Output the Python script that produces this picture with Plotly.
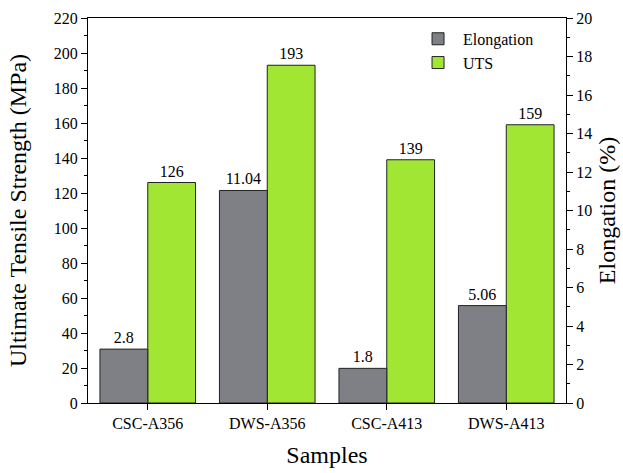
import plotly.graph_objects as go

samples = ["CSC-A356", "DWS-A356", "CSC-A413", "DWS-A413"]
elongation = [2.8, 11.04, 1.8, 5.06]
elongation_text = ["2.8", "11.04", "1.8", "5.06"]
uts = [126, 193, 139, 159]
uts_text = ["126", "193", "139", "159"]

FONT = "Liberation Serif"
GRAY = "#7e8085"
GREEN = "#a1e633"

fig = go.Figure()
fig.add_trace(go.Bar(
    x=samples, y=elongation, name="Elongation", yaxis="y2",
    marker=dict(color=GRAY, line=dict(color="#222222", width=1)),
    width=0.4, offset=-0.4,
    text=elongation_text, textposition="outside", cliponaxis=False,
    textfont=dict(family=FONT, size=16, color="black"),
))
fig.add_trace(go.Bar(
    x=samples, y=uts, name="UTS", yaxis="y",
    marker=dict(color=GREEN, line=dict(color="#222222", width=1)),
    width=0.4, offset=0,
    text=uts_text, textposition="outside", cliponaxis=False,
    textfont=dict(family=FONT, size=16, color="black"),
))

axis_common = dict(
    showgrid=False, zeroline=False, showline=True, linecolor="black", linewidth=1.2,
    ticks="outside", ticklen=6, tickwidth=1.2, tickcolor="black",
    tickfont=dict(family=FONT, size=16, color="black"),
)

fig.update_layout(
    width=623, height=473,
    margin=dict(l=88, r=57, t=18, b=70, autoexpand=False),
    paper_bgcolor="white", plot_bgcolor="white",
    font=dict(family=FONT, size=16, color="black"),
    barmode="overlay",
    showlegend=True,
    legend=dict(x=0.68, y=0.99, xanchor="left", yanchor="top",
                bgcolor="rgba(0,0,0,0)", font=dict(family=FONT, size=16, color="black"),
                tracegroupgap=0, itemwidth=40),
    xaxis=dict(**axis_common, range=[-0.5, 3.5], mirror=True,
               title=dict(text="Samples", font=dict(family=FONT, size=24, color="black"), standoff=14)),
    yaxis=dict(**axis_common, range=[0, 220], dtick=20, tick0=0,
               minor=dict(ticks="outside", ticklen=3, dtick=10, tickcolor="black", tickwidth=1.2),
               title=dict(text="Ultimate Tensile Strength (MPa)", font=dict(family=FONT, size=24, color="black"), standoff=20)),
    yaxis2=dict(**axis_common, range=[0, 20], dtick=2, tick0=0, overlaying="y", side="right",
                minor=dict(ticks="outside", ticklen=3, dtick=1, tickcolor="black", tickwidth=1.2),
                title=dict(text="Elongation (%)", font=dict(family=FONT, size=24, color="black"), standoff=6)),
)

fig.write_html("out.html")
